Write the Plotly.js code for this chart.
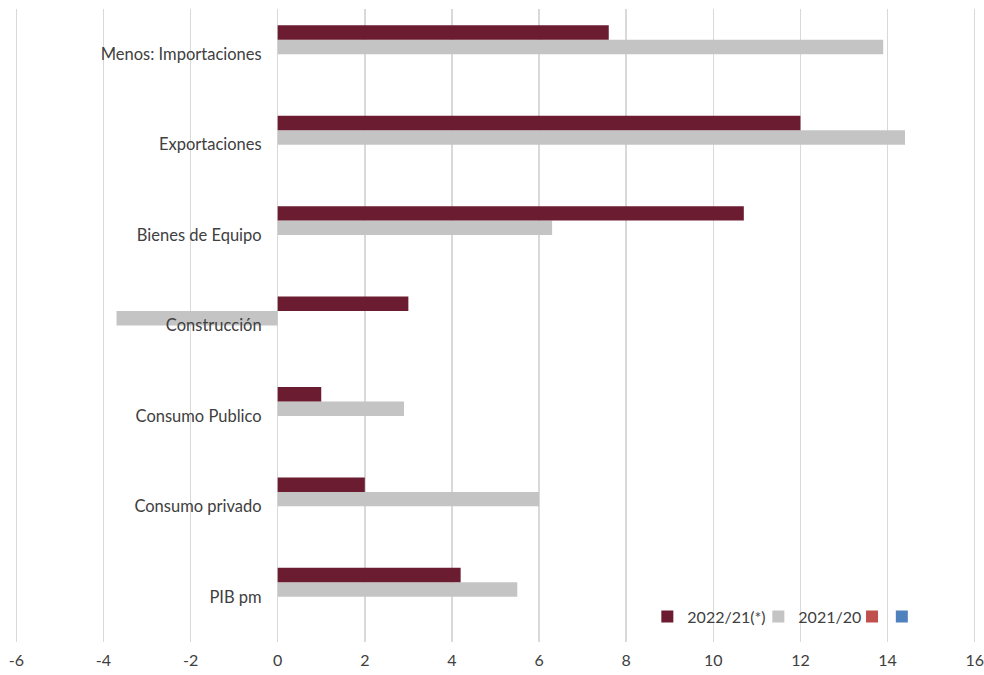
<!DOCTYPE html>
<html>
<head>
<meta charset="utf-8">
<script src="https://cdn.plot.ly/plotly-3.0.1.min.js"></script>
<style>html,body{margin:0;padding:0;background:#fff;}#chart{width:984px;height:675px;}</style>
</head>
<body>
<div id="chart"></div>
<script>
const categories = ["PIB pm", "Consumo privado", "Consumo Publico", "Construcción", "Bienes de Equipo", "Exportaciones", "Menos: Importaciones"];
const serie2022 = [4.2, 2.0, 1.0, 3.0, 10.7, 12.0, 7.6];
const serie2021 = [5.5, 6.0, 2.9, -3.7, 6.3, 14.4, 13.9];
const serieVacia3 = [null, null, null, null, null, null, null];
const serieVacia4 = [null, null, null, null, null, null, null];
const seriesNames = ["2022/21(*)", "2021/20", " ", " "];
const xTicks = [-6, -4, -2, 0, 2, 4, 6, 8, 10, 12, 14, 16];

const colors = ["#6B1C31", "#C3C4C3", "#C0504D", "#4F81BD"];
const font = "Lato, 'Open Sans', sans-serif";

// trace order bottom-to-top within a group for horizontal bars
const traces = [
  {name: seriesNames[3], x: serieVacia4, color: colors[3], legend: "legend3"},
  {name: seriesNames[2], x: serieVacia3, color: colors[2], legend: "legend2"},
  {name: seriesNames[1], x: serie2021, color: colors[1], legend: "legend"},
  {name: seriesNames[0], x: serie2022, color: colors[0], legend: "legend"}
].map(t => ({
  type: "bar",
  orientation: "h",
  name: t.name,
  x: t.x,
  y: categories,
  legend: t.legend,
  marker: {color: t.color, line: {width: 0}},
  hoverinfo: "x+name"
}));

const legendFont = {family: font, size: 16, color: "#404040"};
const legendBase = {
  orientation: "h",
  traceorder: "reversed",
  xanchor: "left",
  y: 0.04,
  yanchor: "middle",
  bgcolor: "rgba(0,0,0,0)",
  font: legendFont,
  itemwidth: 30
};

const layout = {
  width: 984,
  height: 675,
  margin: {l: 15, r: 8, t: 9, b: 33},
  paper_bgcolor: "#ffffff",
  plot_bgcolor: "#ffffff",
  barmode: "group",
  bargap: 0.36,
  bargroupgap: 0,
  font: {family: font, color: "#404040", size: 16},
  xaxis: {
    range: [-6.03, 16.03],
    tickvals: xTicks,
    ticktext: xTicks.map(String),
    showgrid: true,
    gridcolor: "#D9D9D9",
    gridwidth: 1.5,
    zeroline: false,
    showline: false,
    ticks: "",
    ticklabelstandoff: 7,
    automargin: false,
    tickfont: {family: font, size: 16, color: "#404040"},
    fixedrange: true
  },
  yaxis: {
    type: "category",
    categoryorder: "array",
    categoryarray: categories,
    range: [-0.5, 6.5],
    anchor: "free",
    position: 6.03 / 22.06,
    automargin: false,
    showgrid: false,
    zeroline: false,
    showline: false,
    ticks: "",
    ticklabelstandoff: 16,
    tickfont: {family: font, size: 16.5, color: "#404040"},
    fixedrange: true
  },
  showlegend: true,
  legend: Object.assign({}, legendBase, {x: 0.658, entrywidth: 66}),
  legend2: Object.assign({}, legendBase, {x: 0.871, entrywidth: 1}),
  legend3: Object.assign({}, legendBase, {x: 0.902, entrywidth: 1})
};

Plotly.newPlot("chart", traces, layout, {displayModeBar: false, staticPlot: true});
</script>
</body>
</html>
